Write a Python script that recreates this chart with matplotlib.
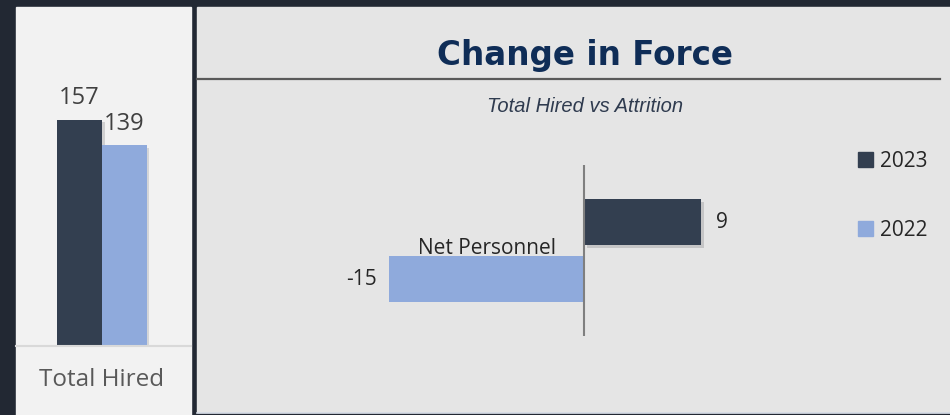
import matplotlib.pyplot as plt
import matplotlib.patheffects as pe
from matplotlib.patches import Rectangle, Patch
from matplotlib.lines import Line2D

# data
series = ["2023", "2022"]
colors = ["#333f50", "#8faadc"]
total_hired = [157, 139]
net_personnel = [9, -15]
left_category = "Total Hired"
right_category = "Net Personnel"

W, H = 950, 415
BG = "#222833"
LEFT_BG = "#f2f2f2"
RIGHT_BG = "#e5e5e5"
FONT = ["Open Sans", "DejaVu Sans"]


def px(x0, y0, x1, y1):
    # pixel box (top-left origin) -> figure fraction rect
    return [x0 / W, 1 - y1 / H, (x1 - x0) / W, (y1 - y0) / H]


fig = plt.figure(figsize=(W / 100, H / 100), dpi=100, facecolor=BG)

# panel backgrounds
fig.add_artist(Rectangle((16 / W, 0), (191 - 16) / W, 1 - 7 / H,
                         transform=fig.transFigure, color=LEFT_BG, zorder=0))
fig.add_artist(Rectangle((197 / W, 3 / H), (W - 197) / W, 1 - 10 / H,
                         transform=fig.transFigure, color=RIGHT_BG, zorder=0))
fig.add_artist(Line2D([197 / W, 1], [2.5 / H] * 2, transform=fig.transFigure,
                      color="#d5dbe6", lw=1.2))

shadow = [pe.SimplePatchShadow(offset=(2, -2), alpha=0.15), pe.Normal()]

# ---- left panel: Total Hired ----
axl = fig.add_axes(px(30, 20, 174, 346))
axl.set_facecolor("none")
w = 0.62
for i, (s, v, c) in enumerate(zip(series, total_hired, colors)):
    xpos = (i - 0.5) * w
    b = axl.bar(xpos, v, width=w, color=c, zorder=2)
    b[0].set_path_effects(shadow)
    axl.annotate(str(v), (xpos, v), xytext=(0, 7), textcoords="offset points",
                 ha="center", va="bottom", fontsize=17, color="#404040",
                 family=FONT)
axl.set_xlim(-1, 1)
axl.set_ylim(0, 226)
axl.axis("off")

fig.add_artist(Line2D([16 / W, 191 / W], [1 - 346 / H] * 2,
                      transform=fig.transFigure, color="#d9d9d9", lw=1.5))
fig.text(102 / W, 1 - 380 / H, left_category, ha="center", va="center",
         fontsize=17.5, color="#595959", family=FONT)

# ---- right panel: Change in Force ----
fig.text(585 / W, 1 - 55 / H, "Change in Force", ha="center", va="center",
         fontsize=23.5, fontweight="bold", color="#0f2d57",
         family=["DejaVu Sans"])
fig.add_artist(Line2D([197 / W, 940 / W], [1 - 79 / H] * 2,
                      transform=fig.transFigure, color="#595959", lw=1.6))
fig.text(585 / W, 1 - 107 / H, "Total Hired vs Attrition", ha="center",
         va="center", fontsize=14.5, style="italic", color="#2f3b4f",
         family=["Liberation Sans Narrow", "Liberation Sans", "DejaVu Sans"])

axr = fig.add_axes(px(324, 165, 844, 336))
axr.set_facecolor("none")
h = 0.8
for i, (s, v, c) in enumerate(zip(series, net_personnel, colors)):
    ypos = 0.5 - i
    b = axr.barh(ypos, v, height=h, color=c, zorder=2)
    if v > 0:
        b[0].set_path_effects(shadow)
    off = 11 if v > 0 else -9
    axr.annotate(str(v), (v, ypos), xytext=(off, 0), textcoords="offset points",
                 ha="left" if v > 0 else "right", va="center", fontsize=15,
                 color="#262626", family=FONT)
axr.axvline(0, color="#7f7f7f", lw=1.5, zorder=3)
axr.text(min(net_personnel) / 2, 0.03, right_category, ha="center",
         va="center", fontsize=15, color="#262626", family=FONT, zorder=4)
axr.set_xlim(-20, 20)
axr.set_ylim(-1.5, 1.5)
axr.axis("off")

handles = [Patch(color=c, label=s) for s, c in zip(series, colors)]
leg = fig.legend(handles=handles, loc="upper left",
                 bbox_to_anchor=(858 / W, 1 - 151 / H), frameon=False,
                 handlelength=0.7, handleheight=0.7, handletextpad=0.35,
                 labelspacing=2.3, borderpad=0, borderaxespad=0,
                 prop={"family": FONT, "size": 15})
for t in leg.get_texts():
    t.set_color("#262626")

fig.savefig("out.png", dpi=100, facecolor=BG)
